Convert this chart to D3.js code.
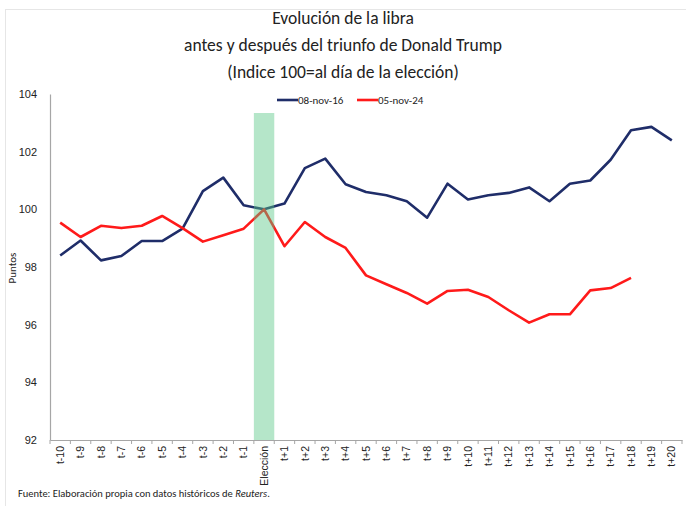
<!DOCTYPE html>
<html><head><meta charset="utf-8">
<script src="https://cdn.jsdelivr.net/npm/d3@7/dist/d3.min.js"></script>
<style>body{margin:0;background:#fff}svg{display:block;font-family:Carlito,Lato,"Open Sans",sans-serif}</style>
</head><body><svg id="c" width="686" height="506"></svg>
<script>
const categories = ["t-10","t-9","t-8","t-7","t-6","t-5","t-4","t-3","t-2","t-1","Elección","t+1","t+2","t+3","t+4","t+5","t+6","t+7","t+8","t+9","t+10","t+11","t+12","t+13","t+14","t+15","t+16","t+17","t+18","t+19","t+20"];
const series2016 = [98.40,98.92,98.23,98.38,98.90,98.90,99.33,100.63,101.10,100.14,100.00,100.20,101.43,101.76,100.87,100.60,100.49,100.28,99.71,100.89,100.34,100.49,100.57,100.76,100.28,100.89,101.00,101.72,102.74,102.86,102.39];
const series2024 = [99.54,99.04,99.43,99.35,99.43,99.77,99.35,98.88,99.10,99.33,100.00,98.72,99.56,99.04,98.66,97.71,97.40,97.10,96.73,97.17,97.21,96.96,96.50,96.07,96.36,96.36,97.19,97.27,97.62];
const seriesNames = ["08-nov-16","05-nov-24"];
const yTicks = [92,94,96,98,100,102,104];
const titleLines = ["Evolución de la libra","antes y después del triunfo de Donald Trump","(Indice 100=al día de la elección)"];

const svg = d3.select("#c");
const L=50, R=682, T=94, B=440;
const x = d3.scaleBand().domain(categories).range([L,R]);
const y = d3.scaleLinear().domain([92,104]).range([B,T]);

// faint frame
svg.append("rect").attr("x",5.5).attr("y",9.5).attr("width",690).attr("height",510).attr("fill","none").attr("stroke","#e6e6e6");

// title
svg.append("g").selectAll("text").data(titleLines).join("text")
  .attr("x",343).attr("y",(d,i)=>24+i*27).attr("text-anchor","middle")
  .attr("font-size",17.5).attr("fill","#222").text(d=>d);

// axes
const gy = svg.append("g").attr("transform",`translate(${L},0)`)
  .call(d3.axisLeft(y).tickValues(yTicks).tickSize(0).tickPadding(13));
gy.select(".domain").attr("stroke","#a6a6a6").attr("stroke-width",1.2);
gy.selectAll("text").attr("font-size",11).attr("fill","#222").style("font-family","inherit");

const gx = svg.append("g").attr("transform",`translate(0,${B})`)
  .call(d3.axisBottom(x).tickSize(0).tickPadding(0));
gx.select(".domain").attr("stroke","#a6a6a6").attr("stroke-width",1.2);
gx.selectAll("text").attr("font-size",10.5).attr("fill","#222").style("font-family","inherit")
  .attr("text-anchor","end").attr("dy","0.35em")
  .attr("transform","translate(0,6) rotate(-90)").attr("x",0).attr("y",0);
// boundary ticks
svg.append("g").selectAll("line").data(categories.concat(["_end"])).join("line")
  .attr("x1",(d,i)=>L+i*x.bandwidth()).attr("x2",(d,i)=>L+i*x.bandwidth())
  .attr("y1",B).attr("y2",B+4).attr("stroke","#a6a6a6").attr("stroke-width",1);

// y label
svg.append("text").attr("transform","translate(16,268) rotate(-90)").attr("text-anchor","middle")
  .attr("font-size",11).attr("fill","#222").text("Puntos");

// lines
const line = d3.line().x((d,i)=>x(categories[i])+x.bandwidth()/2).y(d=>y(d));
svg.append("path").datum(series2016).attr("d",line).attr("fill","none").attr("stroke","#1f2d69").attr("stroke-width",2.6).attr("stroke-linejoin","round");
svg.append("path").datum(series2024).attr("d",line).attr("fill","none").attr("stroke","#ff1a1a").attr("stroke-width",2.6).attr("stroke-linejoin","round");

// election band (semi-transparent on top)
svg.append("rect").attr("x",x("Elección")).attr("width",x.bandwidth())
  .attr("y",113).attr("height",B-113).attr("fill","rgb(90,200,135)").attr("opacity",0.45);

// legend
const leg = [{n:seriesNames[0],c:"#1f2d69",x:277},{n:seriesNames[1],c:"#ff1a1a",x:357}];
const lg = svg.append("g").selectAll("g").data(leg).join("g").attr("transform",d=>`translate(${d.x},100)`);
lg.append("line").attr("x1",0).attr("x2",21).attr("stroke",d=>d.c).attr("stroke-width",2.6);
lg.append("text").attr("x",21).attr("dy","0.35em").attr("font-size",11).attr("fill","#222").text(d=>d.n);

// footer
const ft = svg.append("text").attr("x",18).attr("y",497).attr("font-size",10.5).attr("fill","#222");
ft.append("tspan").text("Fuente: Elaboración propia con datos históricos de ");
ft.append("tspan").attr("font-style","italic").text("Reuters");
ft.append("tspan").text(".");
</script></body></html>
